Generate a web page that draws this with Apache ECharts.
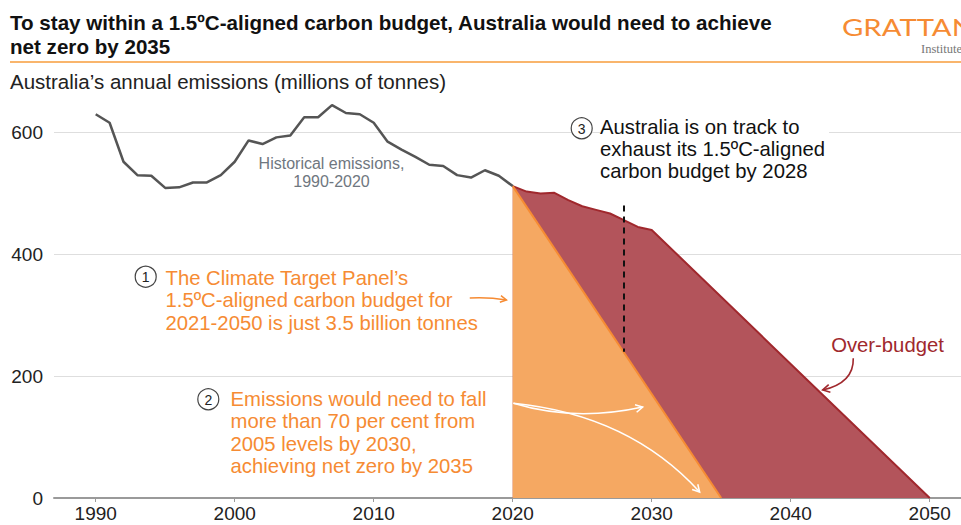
<!DOCTYPE html>
<html>
<head>
<meta charset="utf-8">
<script src="https://cdn.jsdelivr.net/npm/echarts@6/dist/echarts.min.js"></script>
<style>
  html, body { margin: 0; padding: 0; background: #fff; }
  #chart { width: 961px; height: 525px; }
</style>
</head>
<body>
<div id="chart"></div>
<script>
// Australia's annual emissions, millions of tonnes
const histYears = [1990, 1991, 1992, 1993, 1994, 1995, 1996, 1997, 1998, 1999,
                   2000, 2001, 2002, 2003, 2004, 2005, 2006, 2007, 2008, 2009,
                   2010, 2011, 2012, 2013, 2014, 2015, 2016, 2017, 2018, 2019, 2020];
const histValues = [630, 616, 552, 530, 529, 509, 510, 518, 518, 530,
                    552, 587, 581, 592, 595, 625, 625, 645, 632, 630,
                    616, 585, 572, 560, 547, 545, 530, 526, 538, 529, 512];

// Current trajectory, then straight line to net zero in 2050
const trackYears = [2020, 2021, 2022, 2023, 2024, 2025, 2026, 2027, 2028, 2029, 2030, 2050];
const trackValues = [512, 503, 500, 501, 489, 479, 473, 467, 456, 445, 440, 0];

// 1.5ºC-aligned pathway: net zero by 2035
const budgetYears = [2020, 2035];
const budgetValues = [512, 0];

// Year the budget runs out on the current track
const exhaustYear = 2028;

const xTicks = [1990, 2000, 2010, 2020, 2030, 2040, 2050];
const yTicks = [0, 200, 400, 600];

const FONT = '"Liberation Sans", Arial, Helvetica, sans-serif';
const ORANGE = '#F68B33';
const ORANGE_FILL = '#F5A862';
const RED_LINE = '#A0282D';
const RED_FILL = '#B3545B';

const zip = (xs, ys) => xs.map((x, i) => [x, ys[i]]);

const chart = echarts.init(document.getElementById('chart'), null, { renderer: 'svg' });

function circled(n, cx, cy) {
  return {
    type: 'group', x: cx, y: cy, z: 20,
    children: [
      { type: 'circle', shape: { cx: 0, cy: 0, r: 10.5 },
        style: { fill: '#fff', stroke: '#444', lineWidth: 1.2 } },
      { type: 'text', x: 0, y: 0.5,
        style: { text: String(n), font: '14px ' + FONT, fill: '#222',
                 align: 'center', verticalAlign: 'middle' } }
    ]
  };
}

function textBlock(text, x, y, opts) {
  return {
    type: 'text', x: x, y: y, z: 20,
    style: Object.assign({
      text: text, font: '20.3px ' + FONT, fill: '#111',
      lineHeight: 22.3, align: 'left', verticalAlign: 'top'
    }, opts || {})
  };
}

const option = {
  animation: false,
  backgroundColor: '#fff',
  grid: { left: 54, right: 0, top: 132.5, bottom: 27, outerBoundsMode: 'none', containLabel: false },
  xAxis: {
    type: 'value', min: 1987, max: 2052.25,
    axisLine: { show: true, lineStyle: { color: '#9a9a9a', width: 2 } },
    axisTick: { show: true, customValues: xTicks, length: 4, lineStyle: { color: '#9a9a9a' } },
    axisLabel: { customValues: xTicks, fontSize: 19, color: '#222', fontFamily: FONT, margin: 6,
                 formatter: v => String(v) },
    splitLine: { show: false }
  },
  yAxis: {
    type: 'value', min: 0, max: 600, interval: 200,
    axisLine: { show: false }, axisTick: { show: false },
    axisLabel: { customValues: yTicks, fontSize: 19, color: '#222', fontFamily: FONT, margin: 11,
                 formatter: v => String(v) },
    splitLine: { show: true, lineStyle: { color: '#dedede', width: 1 } }
  },
  series: [
    {
      name: 'On track', type: 'line', data: zip(trackYears, trackValues),
      showSymbol: false, silent: true, z: 2,
      lineStyle: { color: RED_LINE, width: 2 },
      areaStyle: { color: RED_FILL, opacity: 1 }
    },
    {
      name: '1.5ºC budget', type: 'line', data: zip(budgetYears, budgetValues),
      showSymbol: false, silent: true, z: 3,
      lineStyle: { color: ORANGE, width: 2 },
      areaStyle: { color: ORANGE_FILL, opacity: 1 }
    },
    {
      name: 'Historical emissions', type: 'line', data: zip(histYears, histValues),
      showSymbol: false, silent: true, z: 4, clip: false,
      lineStyle: { color: '#555', width: 2.5 },
      markLine: {
        silent: true, symbol: ['none', 'none'],
        label: { show: false },
        data: [
          [{ coord: [exhaustYear, 480], lineStyle: { color: '#111', width: 2, type: [6, 5] } },
           { coord: [exhaustYear, 240] }]
        ]
      }
    }
  ]
};

chart.setOption(option);

// Curved callout arrows, anchored in data space
const toPx = p => chart.convertToPixel({ gridIndex: 0 }, p);

function curvedArrow(from, ctrl, to, color, width, head) {
  const a = toPx(from), c = toPx(ctrl), b = toPx(to);
  const ang = Math.atan2(b[1] - c[1], b[0] - c[0]);
  const spread = 0.5;
  const p1 = [b[0] - head * Math.cos(ang - spread), b[1] - head * Math.sin(ang - spread)];
  const p2 = [b[0] - head * Math.cos(ang + spread), b[1] - head * Math.sin(ang + spread)];
  return [
    { type: 'bezierCurve', z: 15,
      shape: { x1: a[0], y1: a[1], cpx1: c[0], cpy1: c[1], x2: b[0], y2: b[1] },
      style: { stroke: color, lineWidth: width, fill: null } },
    { type: 'polyline', z: 15,
      shape: { points: [p1, b, p2] },
      style: { stroke: color, lineWidth: width, fill: null } }
  ];
}

const graphics = [
  // heading
  textBlock('To stay within a 1.5ºC-aligned carbon budget, Australia would need to achieve\nnet zero by 2035',
    10, 10.8, { font: 'bold 20.6px ' + FONT, lineHeight: 23.5, fill: '#111' }),
  { type: 'line', shape: { x1: 10, y1: 62, x2: 961, y2: 62 }, z: 20,
    style: { stroke: '#F9B56C', lineWidth: 2 } },
  textBlock('Australia’s annual emissions (millions of tonnes)', 10, 70.5,
    { font: '20.5px ' + FONT, fill: '#222' }),
  // masthead
  { type: 'text', x: 842, y: 27, z: 20, scaleX: 1.3,
    style: { text: 'GRATTAN', font: '22.5px Lato, "Open Sans", ' + FONT, fill: ORANGE,
             align: 'left', verticalAlign: 'middle' } },
  { type: 'text', x: 921, y: 48.5, z: 20,
    style: { text: 'Institute', font: '12.5px "Liberation Serif", "DejaVu Serif", serif', fill: '#777',
             align: 'left', verticalAlign: 'middle' } },

  // historical label
  { type: 'text', x: 331.5, y: 155, z: 20,
    style: { text: 'Historical emissions,\n1990-2020', font: '16px ' + FONT, fill: '#6f7780',
             lineHeight: 17.5, align: 'center', verticalAlign: 'top' } },

  // note 1
  circled(1, 145.7, 276.7),
  textBlock('The Climate Target Panel’s\n1.5ºC-aligned carbon budget for\n2021-2050 is just 3.5 billion tonnes',
    165.5, 267, { fill: ORANGE }),

  // note 2
  circled(2, 208.3, 399.3),
  textBlock('Emissions would need to fall\nmore than 70 per cent from\n2005 levels by 2030,\nachieving net zero by 2035',
    230.5, 387.8, { fill: ORANGE }),

  // note 3
  circled(3, 581.7, 128.3),
  textBlock('Australia is on track to\nexhaust its 1.5ºC-aligned\ncarbon budget by 2028',
    600, 115.6, { fill: '#111', backgroundColor: '#fff', padding: [0, 4, 0, 0] }),

  // over-budget label
  { type: 'text', x: 887.5, y: 345, z: 20,
    style: { text: 'Over-budget', font: '20.3px ' + FONT, fill: RED_LINE,
             align: 'center', verticalAlign: 'middle' } }
].concat(
  curvedArrow([2016.91, 328.3], [2018.25, 330.0], [2019.55, 325.0], ORANGE, 1.5, 7),
  curvedArrow([2020.05, 155.4], [2024.46, 124.8], [2029.35, 149.4], '#fff', 1.5, 8),
  curvedArrow([2020.05, 155.4], [2028.4, 136.3], [2033.45, 9.8], '#fff', 1.5, 8),
  curvedArrow([2044.5, 229.5], [2044.55, 189.0], [2042.3, 177.3], RED_LINE, 1.6, 8)
);

chart.setOption({ graphic: graphics });
</script>
</body>
</html>
